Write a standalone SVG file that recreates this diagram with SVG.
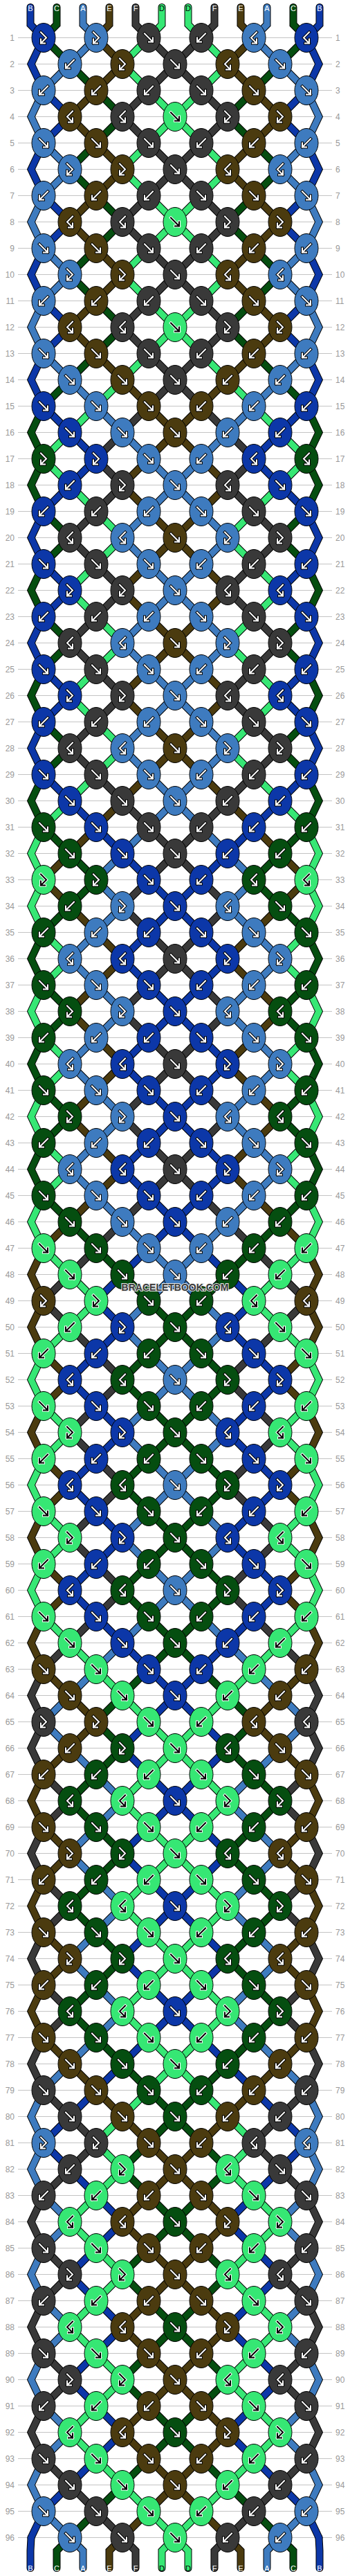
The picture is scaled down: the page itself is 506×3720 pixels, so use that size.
<svg xmlns="http://www.w3.org/2000/svg" xmlns:xlink="http://www.w3.org/1999/xlink" width="506" height="3720" viewBox="0 0 506 3720">
<style>
text{font-family:"Liberation Sans",Arial,sans-serif}
.rn{font-size:12px;fill:#999}
.lt{font-size:11px;text-anchor:middle;fill:#fff}
.lt.d{fill:#000}
.o{fill:none;stroke:#000;stroke-width:11;stroke-linecap:round}
.s{fill:none;stroke-width:9;stroke-linecap:round}
.sB{stroke:#0c37a8}.sC{stroke:#054e10}.sA{stroke:#3e7bbf}.sE{stroke:#4b3b0f}.sF{stroke:#393939}.sD{stroke:#36e774}
#knots g{stroke:#000;color:#fff}
.B{fill:#0c37a8}.C{fill:#054e10}.A{fill:#3e7bbf}.E{fill:#4b3b0f}.F{fill:#393939}
#knots g.D{fill:#36e774;stroke:#fff;color:#000}
</style>
<defs>
<g id="f"><ellipse rx="17" ry="21" stroke="#000" stroke-width="1"/><path d="M-6-6L6 6M6 0V6H0" fill="none" stroke-width="4" stroke-linecap="square"/><path d="M-6-6L6 6M6 0V6H0" fill="none" stroke="currentColor" stroke-width="2" stroke-linecap="square"/></g>
<g id="b"><ellipse rx="17" ry="21" stroke="#000" stroke-width="1"/><path d="M6-6L-6 6M-6 0V6H0" fill="none" stroke-width="4" stroke-linecap="square"/><path d="M6-6L-6 6M-6 0V6H0" fill="none" stroke="currentColor" stroke-width="2" stroke-linecap="square"/></g>
<g id="fb"><ellipse rx="17" ry="21" stroke="#000" stroke-width="1"/><path d="M-4-8L4 0L-4 8M-4 2V8H2" fill="none" stroke-width="4" stroke-linecap="square"/><path d="M-4-8L4 0L-4 8M-4 2V8H2" fill="none" stroke="currentColor" stroke-width="2" stroke-linecap="square"/></g>
<g id="bf"><ellipse rx="17" ry="21" stroke="#000" stroke-width="1"/><path d="M4-8L-4 0L4 8M4 2V8H-2" fill="none" stroke-width="4" stroke-linecap="square"/><path d="M4-8L-4 0L4 8M4 2V8H-2" fill="none" stroke="currentColor" stroke-width="2" stroke-linecap="square"/></g>
<path id="q0" fill="none" d="M63 54.5l-18 38 18 38 38 38 -38 38 -18 38 18 38 38 38 -38 38 -18 38 18 38 38 38 -38 38 -18 38 18 38 38 38"/>
<path id="qt0" fill="none" d="M63 54.5l-18 38 18 38 38 38 -38 38 -18 38 18 38 38 38 -38 38 -18 38 18 38 38 38 -38 38 -18 38 18 38 38 38 38 38"/>
<path id="q1" fill="none" d="M63 54.5l38 38 38 38 38 38 -38 38 -38 38 38 38 38 38 -38 38 -38 38 38 38 38 38 -38 38 -38 38 -38 38 -18 38"/>
<path id="qt1" fill="none" d="M63 54.5l38 38 38 38 38 38 -38 38 -38 38 38 38 38 38 -38 38 -38 38 38 38 38 38 -38 38 -38 38 -38 38 -18 38 18 38"/>
<path id="q2" fill="none" d="M139 54.5l-38 38 -38 38 -18 38 18 38 38 38 -38 38 -18 38 18 38 38 38 -38 38 -18 38 18 38 38 38 38 38 38 38"/>
<path id="qt2" fill="none" d="M139 54.5l-38 38 -38 38 -18 38 18 38 38 38 -38 38 -18 38 18 38 38 38 -38 38 -18 38 18 38 38 38 38 38 38 38 38 38"/>
<path id="q3" fill="none" d="M139 54.5l38 38 -38 38 -38 38 38 38 38 38 -38 38 -38 38 38 38 38 38 -38 38 -38 38 38 38 38 38 38 38 38 38"/>
<path id="qt3" fill="none" d="M139 54.5l38 38 -38 38 -38 38 38 38 38 38 -38 38 -38 38 38 38 38 38 -38 38 -38 38 38 38 38 38 38 38 38 38 38 38"/>
<path id="q4" fill="none" d="M215 54.5l38 38 38 38 38 38 -38 38 -38 38 -38 38 -38 38 38 38 38 38 38 38 38 38 -38 38 -38 38 -38 38 -38 38"/>
<path id="qt4" fill="none" d="M215 54.5l38 38 38 38 38 38 -38 38 -38 38 -38 38 -38 38 38 38 38 38 38 38 38 38 -38 38 -38 38 -38 38 -38 38 -38 38"/>
<path id="q5" fill="none" d="M215 54.5l-38 38 38 38 38 38 38 38 38 38 -38 38 -38 38 -38 38 -38 38 38 38 38 38 38 38 38 38 38 38 38 38"/>
<path id="qt5" fill="none" d="M215 54.5l-38 38 38 38 38 38 38 38 38 38 -38 38 -38 38 -38 38 -38 38 38 38 38 38 38 38 38 38 38 38 38 38 38 38"/>
<path id="q6" fill="none" d="M291 54.5l38 38 -38 38 -38 38 -38 38 -38 38 38 38 38 38 38 38 38 38 -38 38 -38 38 -38 38 -38 38 -38 38 -38 38"/>
<path id="qt6" fill="none" d="M291 54.5l38 38 -38 38 -38 38 -38 38 -38 38 38 38 38 38 38 38 38 38 -38 38 -38 38 -38 38 -38 38 -38 38 -38 38 -38 38"/>
<path id="q7" fill="none" d="M291 54.5l-38 38 -38 38 -38 38 38 38 38 38 38 38 38 38 -38 38 -38 38 -38 38 -38 38 38 38 38 38 38 38 38 38"/>
<path id="qt7" fill="none" d="M291 54.5l-38 38 -38 38 -38 38 38 38 38 38 38 38 38 38 -38 38 -38 38 -38 38 -38 38 38 38 38 38 38 38 38 38 38 38"/>
<path id="q8" fill="none" d="M367 54.5l-38 38 38 38 38 38 -38 38 -38 38 38 38 38 38 -38 38 -38 38 38 38 38 38 -38 38 -38 38 -38 38 -38 38"/>
<path id="qt8" fill="none" d="M367 54.5l-38 38 38 38 38 38 -38 38 -38 38 38 38 38 38 -38 38 -38 38 38 38 38 38 -38 38 -38 38 -38 38 -38 38 -38 38"/>
<path id="q9" fill="none" d="M367 54.5l38 38 38 38 18 38 -18 38 -38 38 38 38 18 38 -18 38 -38 38 38 38 18 38 -18 38 -38 38 -38 38 -38 38"/>
<path id="qt9" fill="none" d="M367 54.5l38 38 38 38 18 38 -18 38 -38 38 38 38 18 38 -18 38 -38 38 38 38 18 38 -18 38 -38 38 -38 38 -38 38 -38 38"/>
<path id="q10" fill="none" d="M443 54.5l-38 38 -38 38 -38 38 38 38 38 38 -38 38 -38 38 38 38 38 38 -38 38 -38 38 38 38 38 38 38 38 18 38"/>
<path id="qt10" fill="none" d="M443 54.5l-38 38 -38 38 -38 38 38 38 38 38 -38 38 -38 38 38 38 38 38 -38 38 -38 38 38 38 38 38 38 38 18 38 -18 38"/>
<path id="q11" fill="none" d="M443 54.5l18 38 -18 38 -38 38 38 38 18 38 -18 38 -38 38 38 38 18 38 -18 38 -38 38 38 38 18 38 -18 38 -38 38"/>
<path id="qt11" fill="none" d="M443 54.5l18 38 -18 38 -38 38 38 38 18 38 -18 38 -38 38 38 38 18 38 -18 38 -38 38 38 38 18 38 -18 38 -38 38 -38 38"/>
<g id="s0"><path fill="none" d="M44 10.5V35.5L63 54.5"/><use href="#qt0"/><use href="#qt2" y="608"/><use href="#qt4" y="1216"/><use href="#qt3" y="1824"/><use href="#qt6" y="2432"/><use href="#q1" y="3040"/><path fill="none" d="M45 3664.5L44 3683.5V3708.5"/></g>
<g id="s1"><path fill="none" d="M82 10.5V35.5L63 54.5"/><use href="#qt1"/><use href="#qt0" y="608"/><use href="#qt2" y="1216"/><use href="#qt4" y="1824"/><use href="#qt3" y="2432"/><use href="#q6" y="3040"/><path fill="none" d="M101 3664.5L82 3683.5V3708.5"/></g>
<g id="s2"><path fill="none" d="M120 10.5V35.5L139 54.5"/><use href="#qt2"/><use href="#qt4" y="608"/><use href="#qt3" y="1216"/><use href="#qt6" y="1824"/><use href="#qt1" y="2432"/><use href="#q0" y="3040"/><path fill="none" d="M101 3664.5L120 3683.5V3708.5"/></g>
<g id="s3"><path fill="none" d="M158 10.5V35.5L139 54.5"/><use href="#qt3"/><use href="#qt6" y="608"/><use href="#qt1" y="1216"/><use href="#qt0" y="1824"/><use href="#qt2" y="2432"/><use href="#q4" y="3040"/><path fill="none" d="M177 3664.5L158 3683.5V3708.5"/></g>
<g id="s4"><path fill="none" d="M196 10.5V35.5L215 54.5"/><use href="#qt4"/><use href="#qt3" y="608"/><use href="#qt6" y="1216"/><use href="#qt1" y="1824"/><use href="#qt0" y="2432"/><use href="#q2" y="3040"/><path fill="none" d="M177 3664.5L196 3683.5V3708.5"/></g>
<g id="s5"><path fill="none" d="M234 10.5V35.5L215 54.5"/><use href="#qt5"/><use href="#qt10" y="608"/><use href="#qt11" y="1216"/><use href="#qt9" y="1824"/><use href="#qt7" y="2432"/><use href="#q8" y="3040"/><path fill="none" d="M253 3664.5L234 3683.5V3708.5"/></g>
<g id="s6"><path fill="none" d="M272 10.5V35.5L291 54.5"/><use href="#qt6"/><use href="#qt1" y="608"/><use href="#qt0" y="1216"/><use href="#qt2" y="1824"/><use href="#qt4" y="2432"/><use href="#q3" y="3040"/><path fill="none" d="M253 3664.5L272 3683.5V3708.5"/></g>
<g id="s7"><path fill="none" d="M310 10.5V35.5L291 54.5"/><use href="#qt7"/><use href="#qt8" y="608"/><use href="#qt5" y="1216"/><use href="#qt10" y="1824"/><use href="#qt11" y="2432"/><use href="#q9" y="3040"/><path fill="none" d="M329 3664.5L310 3683.5V3708.5"/></g>
<g id="s8"><path fill="none" d="M348 10.5V35.5L367 54.5"/><use href="#qt8"/><use href="#qt5" y="608"/><use href="#qt10" y="1216"/><use href="#qt11" y="1824"/><use href="#qt9" y="2432"/><use href="#q7" y="3040"/><path fill="none" d="M329 3664.5L348 3683.5V3708.5"/></g>
<g id="s9"><path fill="none" d="M386 10.5V35.5L367 54.5"/><use href="#qt9"/><use href="#qt7" y="608"/><use href="#qt8" y="1216"/><use href="#qt5" y="1824"/><use href="#qt10" y="2432"/><use href="#q11" y="3040"/><path fill="none" d="M405 3664.5L386 3683.5V3708.5"/></g>
<g id="s10"><path fill="none" d="M424 10.5V35.5L443 54.5"/><use href="#qt10"/><use href="#qt11" y="608"/><use href="#qt9" y="1216"/><use href="#qt7" y="1824"/><use href="#qt8" y="2432"/><use href="#q5" y="3040"/><path fill="none" d="M405 3664.5L424 3683.5V3708.5"/></g>
<g id="s11"><path fill="none" d="M462 10.5V35.5L443 54.5"/><use href="#qt11"/><use href="#qt9" y="608"/><use href="#qt7" y="1216"/><use href="#qt8" y="1824"/><use href="#qt5" y="2432"/><use href="#q10" y="3040"/><path fill="none" d="M461 3664.5L462 3683.5V3708.5"/></g>
</defs>
<rect width="506" height="3720" fill="#fff"/>
<path id="grid" fill="none" stroke="#c4c4c4" stroke-width="1" d="M26 54.5H480M26 92.5H480M26 130.5H480M26 168.5H480M26 206.5H480M26 244.5H480M26 282.5H480M26 320.5H480M26 358.5H480M26 396.5H480M26 434.5H480M26 472.5H480M26 510.5H480M26 548.5H480M26 586.5H480M26 624.5H480M26 662.5H480M26 700.5H480M26 738.5H480M26 776.5H480M26 814.5H480M26 852.5H480M26 890.5H480M26 928.5H480M26 966.5H480M26 1004.5H480M26 1042.5H480M26 1080.5H480M26 1118.5H480M26 1156.5H480M26 1194.5H480M26 1232.5H480M26 1270.5H480M26 1308.5H480M26 1346.5H480M26 1384.5H480M26 1422.5H480M26 1460.5H480M26 1498.5H480M26 1536.5H480M26 1574.5H480M26 1612.5H480M26 1650.5H480M26 1688.5H480M26 1726.5H480M26 1764.5H480M26 1802.5H480M26 1840.5H480M26 1878.5H480M26 1916.5H480M26 1954.5H480M26 1992.5H480M26 2030.5H480M26 2068.5H480M26 2106.5H480M26 2144.5H480M26 2182.5H480M26 2220.5H480M26 2258.5H480M26 2296.5H480M26 2334.5H480M26 2372.5H480M26 2410.5H480M26 2448.5H480M26 2486.5H480M26 2524.5H480M26 2562.5H480M26 2600.5H480M26 2638.5H480M26 2676.5H480M26 2714.5H480M26 2752.5H480M26 2790.5H480M26 2828.5H480M26 2866.5H480M26 2904.5H480M26 2942.5H480M26 2980.5H480M26 3018.5H480M26 3056.5H480M26 3094.5H480M26 3132.5H480M26 3170.5H480M26 3208.5H480M26 3246.5H480M26 3284.5H480M26 3322.5H480M26 3360.5H480M26 3398.5H480M26 3436.5H480M26 3474.5H480M26 3512.5H480M26 3550.5H480M26 3588.5H480M26 3626.5H480M26 3664.5H480"/>
<g id="rownums" class="rn">
<g transform="translate(21 0)" text-anchor="end">
<text y="59">1</text><text y="97">2</text><text y="135">3</text><text y="173">4</text><text y="211">5</text><text y="249">6</text><text y="287">7</text><text y="325">8</text><text y="363">9</text><text y="401">10</text><text y="439">11</text><text y="477">12</text><text y="515">13</text><text y="553">14</text><text y="591">15</text><text y="629">16</text><text y="667">17</text><text y="705">18</text><text y="743">19</text><text y="781">20</text><text y="819">21</text><text y="857">22</text><text y="895">23</text><text y="933">24</text><text y="971">25</text><text y="1009">26</text><text y="1047">27</text><text y="1085">28</text><text y="1123">29</text><text y="1161">30</text><text y="1199">31</text><text y="1237">32</text><text y="1275">33</text><text y="1313">34</text><text y="1351">35</text><text y="1389">36</text><text y="1427">37</text><text y="1465">38</text><text y="1503">39</text><text y="1541">40</text><text y="1579">41</text><text y="1617">42</text><text y="1655">43</text><text y="1693">44</text><text y="1731">45</text><text y="1769">46</text><text y="1807">47</text><text y="1845">48</text><text y="1883">49</text><text y="1921">50</text><text y="1959">51</text><text y="1997">52</text><text y="2035">53</text><text y="2073">54</text><text y="2111">55</text><text y="2149">56</text><text y="2187">57</text><text y="2225">58</text><text y="2263">59</text><text y="2301">60</text><text y="2339">61</text><text y="2377">62</text><text y="2415">63</text><text y="2453">64</text><text y="2491">65</text><text y="2529">66</text><text y="2567">67</text><text y="2605">68</text><text y="2643">69</text><text y="2681">70</text><text y="2719">71</text><text y="2757">72</text><text y="2795">73</text><text y="2833">74</text><text y="2871">75</text><text y="2909">76</text><text y="2947">77</text><text y="2985">78</text><text y="3023">79</text><text y="3061">80</text><text y="3099">81</text><text y="3137">82</text><text y="3175">83</text><text y="3213">84</text><text y="3251">85</text><text y="3289">86</text><text y="3327">87</text><text y="3365">88</text><text y="3403">89</text><text y="3441">90</text><text y="3479">91</text><text y="3517">92</text><text y="3555">93</text><text y="3593">94</text><text y="3631">95</text><text y="3669">96</text>
</g>
<g transform="translate(485 0)">
<text y="59">1</text><text y="97">2</text><text y="135">3</text><text y="173">4</text><text y="211">5</text><text y="249">6</text><text y="287">7</text><text y="325">8</text><text y="363">9</text><text y="401">10</text><text y="439">11</text><text y="477">12</text><text y="515">13</text><text y="553">14</text><text y="591">15</text><text y="629">16</text><text y="667">17</text><text y="705">18</text><text y="743">19</text><text y="781">20</text><text y="819">21</text><text y="857">22</text><text y="895">23</text><text y="933">24</text><text y="971">25</text><text y="1009">26</text><text y="1047">27</text><text y="1085">28</text><text y="1123">29</text><text y="1161">30</text><text y="1199">31</text><text y="1237">32</text><text y="1275">33</text><text y="1313">34</text><text y="1351">35</text><text y="1389">36</text><text y="1427">37</text><text y="1465">38</text><text y="1503">39</text><text y="1541">40</text><text y="1579">41</text><text y="1617">42</text><text y="1655">43</text><text y="1693">44</text><text y="1731">45</text><text y="1769">46</text><text y="1807">47</text><text y="1845">48</text><text y="1883">49</text><text y="1921">50</text><text y="1959">51</text><text y="1997">52</text><text y="2035">53</text><text y="2073">54</text><text y="2111">55</text><text y="2149">56</text><text y="2187">57</text><text y="2225">58</text><text y="2263">59</text><text y="2301">60</text><text y="2339">61</text><text y="2377">62</text><text y="2415">63</text><text y="2453">64</text><text y="2491">65</text><text y="2529">66</text><text y="2567">67</text><text y="2605">68</text><text y="2643">69</text><text y="2681">70</text><text y="2719">71</text><text y="2757">72</text><text y="2795">73</text><text y="2833">74</text><text y="2871">75</text><text y="2909">76</text><text y="2947">77</text><text y="2985">78</text><text y="3023">79</text><text y="3061">80</text><text y="3099">81</text><text y="3137">82</text><text y="3175">83</text><text y="3213">84</text><text y="3251">85</text><text y="3289">86</text><text y="3327">87</text><text y="3365">88</text><text y="3403">89</text><text y="3441">90</text><text y="3479">91</text><text y="3517">92</text><text y="3555">93</text><text y="3593">94</text><text y="3631">95</text><text y="3669">96</text>
</g>
</g>
<g id="strings">
<use href="#s0" class="o"/><use href="#s1" class="o"/><use href="#s2" class="o"/><use href="#s3" class="o"/><use href="#s4" class="o"/><use href="#s5" class="o"/><use href="#s6" class="o"/><use href="#s7" class="o"/><use href="#s8" class="o"/><use href="#s9" class="o"/><use href="#s10" class="o"/><use href="#s11" class="o"/>
<use href="#s0" class="s sB"/><use href="#s1" class="s sC"/><use href="#s2" class="s sA"/><use href="#s3" class="s sE"/><use href="#s4" class="s sF"/><use href="#s5" class="s sD"/><use href="#s6" class="s sD"/><use href="#s7" class="s sF"/><use href="#s8" class="s sE"/><use href="#s9" class="s sA"/><use href="#s10" class="s sC"/><use href="#s11" class="s sB"/>
</g>
<g id="labels">
<text class="lt" x="44" y="16">B</text><text class="lt" x="82" y="16">C</text><text class="lt" x="120" y="16">A</text><text class="lt" x="158" y="16">E</text><text class="lt" x="196" y="16">F</text><text class="lt d" x="234" y="16">D</text><text class="lt d" x="272" y="16">D</text><text class="lt" x="310" y="16">F</text><text class="lt" x="348" y="16">E</text><text class="lt" x="386" y="16">A</text><text class="lt" x="424" y="16">C</text><text class="lt" x="462" y="16">B</text>
<text class="lt" x="44" y="3712.5">B</text><text class="lt" x="82" y="3712.5">C</text><text class="lt" x="120" y="3712.5">A</text><text class="lt" x="158" y="3712.5">E</text><text class="lt" x="196" y="3712.5">F</text><text class="lt d" x="234" y="3712.5">D</text><text class="lt d" x="272" y="3712.5">D</text><text class="lt" x="310" y="3712.5">F</text><text class="lt" x="348" y="3712.5">E</text><text class="lt" x="386" y="3712.5">A</text><text class="lt" x="424" y="3712.5">C</text><text class="lt" x="462" y="3712.5">B</text>
</g>
<g id="knots">
<g id="r1" transform="translate(0 54.5)"><g id="k1-1" class="B"><use href="#fb" x="63"/></g><g id="k1-2" class="A"><use href="#fb" x="139"/></g><g id="k1-3" class="F"><use href="#f" x="215"/></g><g id="k1-4" class="F"><use href="#b" x="291"/></g><g id="k1-5" class="A"><use href="#bf" x="367"/></g><g id="k1-6" class="B"><use href="#bf" x="443"/></g></g>
<g id="r2" transform="translate(0 92.5)"><g id="k2-1" class="A"><use href="#b" x="101"/></g><g id="k2-2" class="E"><use href="#fb" x="177"/></g><g id="k2-3" class="F"><use href="#f" x="253"/></g><g id="k2-4" class="E"><use href="#bf" x="329"/></g><g id="k2-5" class="A"><use href="#f" x="405"/></g></g>
<g id="r3" transform="translate(0 130.5)"><g id="k3-1" class="A"><use href="#b" x="63"/></g><g id="k3-2" class="E"><use href="#b" x="139"/></g><g id="k3-3" class="F"><use href="#b" x="215"/></g><g id="k3-4" class="F"><use href="#f" x="291"/></g><g id="k3-5" class="E"><use href="#f" x="367"/></g><g id="k3-6" class="A"><use href="#f" x="443"/></g></g>
<g id="r4" transform="translate(0 168.5)"><g id="k4-1" class="E"><use href="#bf" x="101"/></g><g id="k4-2" class="F"><use href="#bf" x="177"/></g><g id="k4-3" class="D"><use href="#f" x="253"/></g><g id="k4-4" class="F"><use href="#fb" x="329"/></g><g id="k4-5" class="E"><use href="#fb" x="405"/></g></g>
<g id="r5" transform="translate(0 206.5)"><g id="k5-1" class="A"><use href="#f" x="63"/></g><g id="k5-2" class="E"><use href="#f" x="139"/></g><g id="k5-3" class="F"><use href="#f" x="215"/></g><g id="k5-4" class="F"><use href="#b" x="291"/></g><g id="k5-5" class="E"><use href="#b" x="367"/></g><g id="k5-6" class="A"><use href="#b" x="443"/></g></g>
<g id="r6" transform="translate(0 244.5)"><g id="k6-1" class="A"><use href="#fb" x="101"/></g><g id="k6-2" class="E"><use href="#fb" x="177"/></g><g id="k6-3" class="F"><use href="#f" x="253"/></g><g id="k6-4" class="E"><use href="#bf" x="329"/></g><g id="k6-5" class="A"><use href="#bf" x="405"/></g></g>
<g id="r7" transform="translate(0 282.5)"><g id="k7-1" class="A"><use href="#b" x="63"/></g><g id="k7-2" class="E"><use href="#b" x="139"/></g><g id="k7-3" class="F"><use href="#b" x="215"/></g><g id="k7-4" class="F"><use href="#f" x="291"/></g><g id="k7-5" class="E"><use href="#f" x="367"/></g><g id="k7-6" class="A"><use href="#f" x="443"/></g></g>
<g id="r8" transform="translate(0 320.5)"><g id="k8-1" class="E"><use href="#bf" x="101"/></g><g id="k8-2" class="F"><use href="#bf" x="177"/></g><g id="k8-3" class="D"><use href="#f" x="253"/></g><g id="k8-4" class="F"><use href="#fb" x="329"/></g><g id="k8-5" class="E"><use href="#fb" x="405"/></g></g>
<g id="r9" transform="translate(0 358.5)"><g id="k9-1" class="A"><use href="#f" x="63"/></g><g id="k9-2" class="E"><use href="#f" x="139"/></g><g id="k9-3" class="F"><use href="#f" x="215"/></g><g id="k9-4" class="F"><use href="#b" x="291"/></g><g id="k9-5" class="E"><use href="#b" x="367"/></g><g id="k9-6" class="A"><use href="#b" x="443"/></g></g>
<g id="r10" transform="translate(0 396.5)"><g id="k10-1" class="A"><use href="#fb" x="101"/></g><g id="k10-2" class="E"><use href="#fb" x="177"/></g><g id="k10-3" class="F"><use href="#f" x="253"/></g><g id="k10-4" class="E"><use href="#bf" x="329"/></g><g id="k10-5" class="A"><use href="#bf" x="405"/></g></g>
<g id="r11" transform="translate(0 434.5)"><g id="k11-1" class="A"><use href="#b" x="63"/></g><g id="k11-2" class="E"><use href="#b" x="139"/></g><g id="k11-3" class="F"><use href="#b" x="215"/></g><g id="k11-4" class="F"><use href="#f" x="291"/></g><g id="k11-5" class="E"><use href="#f" x="367"/></g><g id="k11-6" class="A"><use href="#f" x="443"/></g></g>
<g id="r12" transform="translate(0 472.5)"><g id="k12-1" class="E"><use href="#bf" x="101"/></g><g id="k12-2" class="F"><use href="#bf" x="177"/></g><g id="k12-3" class="D"><use href="#f" x="253"/></g><g id="k12-4" class="F"><use href="#fb" x="329"/></g><g id="k12-5" class="E"><use href="#fb" x="405"/></g></g>
<g id="r13" transform="translate(0 510.5)"><g id="k13-1" class="A"><use href="#f" x="63"/></g><g id="k13-2" class="E"><use href="#f" x="139"/></g><g id="k13-3" class="F"><use href="#f" x="215"/></g><g id="k13-4" class="F"><use href="#b" x="291"/></g><g id="k13-5" class="E"><use href="#b" x="367"/></g><g id="k13-6" class="A"><use href="#b" x="443"/></g></g>
<g id="r14" transform="translate(0 548.5)"><g id="k14-1" class="A"><use href="#f" x="101"/></g><g id="k14-2" class="E"><use href="#f" x="177"/></g><g id="k14-3" class="F"><use href="#f" x="253"/></g><g id="k14-4" class="E"><use href="#b" x="329"/></g><g id="k14-5" class="A"><use href="#b" x="405"/></g></g>
<g id="r15" transform="translate(0 586.5)"><g id="k15-1" class="B"><use href="#f" x="63"/></g><g id="k15-2" class="A"><use href="#f" x="139"/></g><g id="k15-3" class="E"><use href="#f" x="215"/></g><g id="k15-4" class="E"><use href="#b" x="291"/></g><g id="k15-5" class="A"><use href="#b" x="367"/></g><g id="k15-6" class="B"><use href="#b" x="443"/></g></g>
<g id="r16" transform="translate(0 624.5)"><g id="k16-1" class="B"><use href="#f" x="101"/></g><g id="k16-2" class="A"><use href="#f" x="177"/></g><g id="k16-3" class="E"><use href="#f" x="253"/></g><g id="k16-4" class="A"><use href="#b" x="329"/></g><g id="k16-5" class="B"><use href="#b" x="405"/></g></g>
<g id="r17" transform="translate(0 662.5)"><g id="k17-1" class="C"><use href="#fb" x="63"/></g><g id="k17-2" class="B"><use href="#fb" x="139"/></g><g id="k17-3" class="A"><use href="#f" x="215"/></g><g id="k17-4" class="A"><use href="#b" x="291"/></g><g id="k17-5" class="B"><use href="#bf" x="367"/></g><g id="k17-6" class="C"><use href="#bf" x="443"/></g></g>
<g id="r18" transform="translate(0 700.5)"><g id="k18-1" class="B"><use href="#b" x="101"/></g><g id="k18-2" class="F"><use href="#fb" x="177"/></g><g id="k18-3" class="A"><use href="#f" x="253"/></g><g id="k18-4" class="F"><use href="#bf" x="329"/></g><g id="k18-5" class="B"><use href="#f" x="405"/></g></g>
<g id="r19" transform="translate(0 738.5)"><g id="k19-1" class="B"><use href="#b" x="63"/></g><g id="k19-2" class="F"><use href="#b" x="139"/></g><g id="k19-3" class="A"><use href="#b" x="215"/></g><g id="k19-4" class="A"><use href="#f" x="291"/></g><g id="k19-5" class="F"><use href="#f" x="367"/></g><g id="k19-6" class="B"><use href="#f" x="443"/></g></g>
<g id="r20" transform="translate(0 776.5)"><g id="k20-1" class="F"><use href="#bf" x="101"/></g><g id="k20-2" class="A"><use href="#bf" x="177"/></g><g id="k20-3" class="E"><use href="#f" x="253"/></g><g id="k20-4" class="A"><use href="#fb" x="329"/></g><g id="k20-5" class="F"><use href="#fb" x="405"/></g></g>
<g id="r21" transform="translate(0 814.5)"><g id="k21-1" class="B"><use href="#f" x="63"/></g><g id="k21-2" class="F"><use href="#f" x="139"/></g><g id="k21-3" class="A"><use href="#f" x="215"/></g><g id="k21-4" class="A"><use href="#b" x="291"/></g><g id="k21-5" class="F"><use href="#b" x="367"/></g><g id="k21-6" class="B"><use href="#b" x="443"/></g></g>
<g id="r22" transform="translate(0 852.5)"><g id="k22-1" class="B"><use href="#fb" x="101"/></g><g id="k22-2" class="F"><use href="#fb" x="177"/></g><g id="k22-3" class="A"><use href="#f" x="253"/></g><g id="k22-4" class="F"><use href="#bf" x="329"/></g><g id="k22-5" class="B"><use href="#bf" x="405"/></g></g>
<g id="r23" transform="translate(0 890.5)"><g id="k23-1" class="B"><use href="#b" x="63"/></g><g id="k23-2" class="F"><use href="#b" x="139"/></g><g id="k23-3" class="A"><use href="#b" x="215"/></g><g id="k23-4" class="A"><use href="#f" x="291"/></g><g id="k23-5" class="F"><use href="#f" x="367"/></g><g id="k23-6" class="B"><use href="#f" x="443"/></g></g>
<g id="r24" transform="translate(0 928.5)"><g id="k24-1" class="F"><use href="#bf" x="101"/></g><g id="k24-2" class="A"><use href="#bf" x="177"/></g><g id="k24-3" class="E"><use href="#f" x="253"/></g><g id="k24-4" class="A"><use href="#fb" x="329"/></g><g id="k24-5" class="F"><use href="#fb" x="405"/></g></g>
<g id="r25" transform="translate(0 966.5)"><g id="k25-1" class="B"><use href="#f" x="63"/></g><g id="k25-2" class="F"><use href="#f" x="139"/></g><g id="k25-3" class="A"><use href="#f" x="215"/></g><g id="k25-4" class="A"><use href="#b" x="291"/></g><g id="k25-5" class="F"><use href="#b" x="367"/></g><g id="k25-6" class="B"><use href="#b" x="443"/></g></g>
<g id="r26" transform="translate(0 1004.5)"><g id="k26-1" class="B"><use href="#fb" x="101"/></g><g id="k26-2" class="F"><use href="#fb" x="177"/></g><g id="k26-3" class="A"><use href="#f" x="253"/></g><g id="k26-4" class="F"><use href="#bf" x="329"/></g><g id="k26-5" class="B"><use href="#bf" x="405"/></g></g>
<g id="r27" transform="translate(0 1042.5)"><g id="k27-1" class="B"><use href="#b" x="63"/></g><g id="k27-2" class="F"><use href="#b" x="139"/></g><g id="k27-3" class="A"><use href="#b" x="215"/></g><g id="k27-4" class="A"><use href="#f" x="291"/></g><g id="k27-5" class="F"><use href="#f" x="367"/></g><g id="k27-6" class="B"><use href="#f" x="443"/></g></g>
<g id="r28" transform="translate(0 1080.5)"><g id="k28-1" class="F"><use href="#bf" x="101"/></g><g id="k28-2" class="A"><use href="#bf" x="177"/></g><g id="k28-3" class="E"><use href="#f" x="253"/></g><g id="k28-4" class="A"><use href="#fb" x="329"/></g><g id="k28-5" class="F"><use href="#fb" x="405"/></g></g>
<g id="r29" transform="translate(0 1118.5)"><g id="k29-1" class="B"><use href="#f" x="63"/></g><g id="k29-2" class="F"><use href="#f" x="139"/></g><g id="k29-3" class="A"><use href="#f" x="215"/></g><g id="k29-4" class="A"><use href="#b" x="291"/></g><g id="k29-5" class="F"><use href="#b" x="367"/></g><g id="k29-6" class="B"><use href="#b" x="443"/></g></g>
<g id="r30" transform="translate(0 1156.5)"><g id="k30-1" class="B"><use href="#f" x="101"/></g><g id="k30-2" class="F"><use href="#f" x="177"/></g><g id="k30-3" class="A"><use href="#f" x="253"/></g><g id="k30-4" class="F"><use href="#b" x="329"/></g><g id="k30-5" class="B"><use href="#b" x="405"/></g></g>
<g id="r31" transform="translate(0 1194.5)"><g id="k31-1" class="C"><use href="#f" x="63"/></g><g id="k31-2" class="B"><use href="#f" x="139"/></g><g id="k31-3" class="F"><use href="#f" x="215"/></g><g id="k31-4" class="F"><use href="#b" x="291"/></g><g id="k31-5" class="B"><use href="#b" x="367"/></g><g id="k31-6" class="C"><use href="#b" x="443"/></g></g>
<g id="r32" transform="translate(0 1232.5)"><g id="k32-1" class="C"><use href="#f" x="101"/></g><g id="k32-2" class="B"><use href="#f" x="177"/></g><g id="k32-3" class="F"><use href="#f" x="253"/></g><g id="k32-4" class="B"><use href="#b" x="329"/></g><g id="k32-5" class="C"><use href="#b" x="405"/></g></g>
<g id="r33" transform="translate(0 1270.5)"><g id="k33-1" class="D"><use href="#fb" x="63"/></g><g id="k33-2" class="C"><use href="#fb" x="139"/></g><g id="k33-3" class="B"><use href="#f" x="215"/></g><g id="k33-4" class="B"><use href="#b" x="291"/></g><g id="k33-5" class="C"><use href="#bf" x="367"/></g><g id="k33-6" class="D"><use href="#bf" x="443"/></g></g>
<g id="r34" transform="translate(0 1308.5)"><g id="k34-1" class="C"><use href="#b" x="101"/></g><g id="k34-2" class="A"><use href="#fb" x="177"/></g><g id="k34-3" class="B"><use href="#f" x="253"/></g><g id="k34-4" class="A"><use href="#bf" x="329"/></g><g id="k34-5" class="C"><use href="#f" x="405"/></g></g>
<g id="r35" transform="translate(0 1346.5)"><g id="k35-1" class="C"><use href="#b" x="63"/></g><g id="k35-2" class="A"><use href="#b" x="139"/></g><g id="k35-3" class="B"><use href="#b" x="215"/></g><g id="k35-4" class="B"><use href="#f" x="291"/></g><g id="k35-5" class="A"><use href="#f" x="367"/></g><g id="k35-6" class="C"><use href="#f" x="443"/></g></g>
<g id="r36" transform="translate(0 1384.5)"><g id="k36-1" class="A"><use href="#bf" x="101"/></g><g id="k36-2" class="B"><use href="#bf" x="177"/></g><g id="k36-3" class="F"><use href="#f" x="253"/></g><g id="k36-4" class="B"><use href="#fb" x="329"/></g><g id="k36-5" class="A"><use href="#fb" x="405"/></g></g>
<g id="r37" transform="translate(0 1422.5)"><g id="k37-1" class="C"><use href="#f" x="63"/></g><g id="k37-2" class="A"><use href="#f" x="139"/></g><g id="k37-3" class="B"><use href="#f" x="215"/></g><g id="k37-4" class="B"><use href="#b" x="291"/></g><g id="k37-5" class="A"><use href="#b" x="367"/></g><g id="k37-6" class="C"><use href="#b" x="443"/></g></g>
<g id="r38" transform="translate(0 1460.5)"><g id="k38-1" class="C"><use href="#fb" x="101"/></g><g id="k38-2" class="A"><use href="#fb" x="177"/></g><g id="k38-3" class="B"><use href="#f" x="253"/></g><g id="k38-4" class="A"><use href="#bf" x="329"/></g><g id="k38-5" class="C"><use href="#bf" x="405"/></g></g>
<g id="r39" transform="translate(0 1498.5)"><g id="k39-1" class="C"><use href="#b" x="63"/></g><g id="k39-2" class="A"><use href="#b" x="139"/></g><g id="k39-3" class="B"><use href="#b" x="215"/></g><g id="k39-4" class="B"><use href="#f" x="291"/></g><g id="k39-5" class="A"><use href="#f" x="367"/></g><g id="k39-6" class="C"><use href="#f" x="443"/></g></g>
<g id="r40" transform="translate(0 1536.5)"><g id="k40-1" class="A"><use href="#bf" x="101"/></g><g id="k40-2" class="B"><use href="#bf" x="177"/></g><g id="k40-3" class="F"><use href="#f" x="253"/></g><g id="k40-4" class="B"><use href="#fb" x="329"/></g><g id="k40-5" class="A"><use href="#fb" x="405"/></g></g>
<g id="r41" transform="translate(0 1574.5)"><g id="k41-1" class="C"><use href="#f" x="63"/></g><g id="k41-2" class="A"><use href="#f" x="139"/></g><g id="k41-3" class="B"><use href="#f" x="215"/></g><g id="k41-4" class="B"><use href="#b" x="291"/></g><g id="k41-5" class="A"><use href="#b" x="367"/></g><g id="k41-6" class="C"><use href="#b" x="443"/></g></g>
<g id="r42" transform="translate(0 1612.5)"><g id="k42-1" class="C"><use href="#fb" x="101"/></g><g id="k42-2" class="A"><use href="#fb" x="177"/></g><g id="k42-3" class="B"><use href="#f" x="253"/></g><g id="k42-4" class="A"><use href="#bf" x="329"/></g><g id="k42-5" class="C"><use href="#bf" x="405"/></g></g>
<g id="r43" transform="translate(0 1650.5)"><g id="k43-1" class="C"><use href="#b" x="63"/></g><g id="k43-2" class="A"><use href="#b" x="139"/></g><g id="k43-3" class="B"><use href="#b" x="215"/></g><g id="k43-4" class="B"><use href="#f" x="291"/></g><g id="k43-5" class="A"><use href="#f" x="367"/></g><g id="k43-6" class="C"><use href="#f" x="443"/></g></g>
<g id="r44" transform="translate(0 1688.5)"><g id="k44-1" class="A"><use href="#bf" x="101"/></g><g id="k44-2" class="B"><use href="#bf" x="177"/></g><g id="k44-3" class="F"><use href="#f" x="253"/></g><g id="k44-4" class="B"><use href="#fb" x="329"/></g><g id="k44-5" class="A"><use href="#fb" x="405"/></g></g>
<g id="r45" transform="translate(0 1726.5)"><g id="k45-1" class="C"><use href="#f" x="63"/></g><g id="k45-2" class="A"><use href="#f" x="139"/></g><g id="k45-3" class="B"><use href="#f" x="215"/></g><g id="k45-4" class="B"><use href="#b" x="291"/></g><g id="k45-5" class="A"><use href="#b" x="367"/></g><g id="k45-6" class="C"><use href="#b" x="443"/></g></g>
<g id="r46" transform="translate(0 1764.5)"><g id="k46-1" class="C"><use href="#f" x="101"/></g><g id="k46-2" class="A"><use href="#f" x="177"/></g><g id="k46-3" class="B"><use href="#f" x="253"/></g><g id="k46-4" class="A"><use href="#b" x="329"/></g><g id="k46-5" class="C"><use href="#b" x="405"/></g></g>
<g id="r47" transform="translate(0 1802.5)"><g id="k47-1" class="D"><use href="#f" x="63"/></g><g id="k47-2" class="C"><use href="#f" x="139"/></g><g id="k47-3" class="A"><use href="#f" x="215"/></g><g id="k47-4" class="A"><use href="#b" x="291"/></g><g id="k47-5" class="C"><use href="#b" x="367"/></g><g id="k47-6" class="D"><use href="#b" x="443"/></g></g>
<g id="r48" transform="translate(0 1840.5)"><g id="k48-1" class="D"><use href="#f" x="101"/></g><g id="k48-2" class="C"><use href="#f" x="177"/></g><g id="k48-3" class="A"><use href="#f" x="253"/></g><g id="k48-4" class="C"><use href="#b" x="329"/></g><g id="k48-5" class="D"><use href="#b" x="405"/></g></g>
<g id="r49" transform="translate(0 1878.5)"><g id="k49-1" class="E"><use href="#fb" x="63"/></g><g id="k49-2" class="D"><use href="#fb" x="139"/></g><g id="k49-3" class="C"><use href="#f" x="215"/></g><g id="k49-4" class="C"><use href="#b" x="291"/></g><g id="k49-5" class="D"><use href="#bf" x="367"/></g><g id="k49-6" class="E"><use href="#bf" x="443"/></g></g>
<g id="r50" transform="translate(0 1916.5)"><g id="k50-1" class="D"><use href="#b" x="101"/></g><g id="k50-2" class="B"><use href="#fb" x="177"/></g><g id="k50-3" class="C"><use href="#f" x="253"/></g><g id="k50-4" class="B"><use href="#bf" x="329"/></g><g id="k50-5" class="D"><use href="#f" x="405"/></g></g>
<g id="r51" transform="translate(0 1954.5)"><g id="k51-1" class="D"><use href="#b" x="63"/></g><g id="k51-2" class="B"><use href="#b" x="139"/></g><g id="k51-3" class="C"><use href="#b" x="215"/></g><g id="k51-4" class="C"><use href="#f" x="291"/></g><g id="k51-5" class="B"><use href="#f" x="367"/></g><g id="k51-6" class="D"><use href="#f" x="443"/></g></g>
<g id="r52" transform="translate(0 1992.5)"><g id="k52-1" class="B"><use href="#bf" x="101"/></g><g id="k52-2" class="C"><use href="#bf" x="177"/></g><g id="k52-3" class="A"><use href="#f" x="253"/></g><g id="k52-4" class="C"><use href="#fb" x="329"/></g><g id="k52-5" class="B"><use href="#fb" x="405"/></g></g>
<g id="r53" transform="translate(0 2030.5)"><g id="k53-1" class="D"><use href="#f" x="63"/></g><g id="k53-2" class="B"><use href="#f" x="139"/></g><g id="k53-3" class="C"><use href="#f" x="215"/></g><g id="k53-4" class="C"><use href="#b" x="291"/></g><g id="k53-5" class="B"><use href="#b" x="367"/></g><g id="k53-6" class="D"><use href="#b" x="443"/></g></g>
<g id="r54" transform="translate(0 2068.5)"><g id="k54-1" class="D"><use href="#fb" x="101"/></g><g id="k54-2" class="B"><use href="#fb" x="177"/></g><g id="k54-3" class="C"><use href="#f" x="253"/></g><g id="k54-4" class="B"><use href="#bf" x="329"/></g><g id="k54-5" class="D"><use href="#bf" x="405"/></g></g>
<g id="r55" transform="translate(0 2106.5)"><g id="k55-1" class="D"><use href="#b" x="63"/></g><g id="k55-2" class="B"><use href="#b" x="139"/></g><g id="k55-3" class="C"><use href="#b" x="215"/></g><g id="k55-4" class="C"><use href="#f" x="291"/></g><g id="k55-5" class="B"><use href="#f" x="367"/></g><g id="k55-6" class="D"><use href="#f" x="443"/></g></g>
<g id="r56" transform="translate(0 2144.5)"><g id="k56-1" class="B"><use href="#bf" x="101"/></g><g id="k56-2" class="C"><use href="#bf" x="177"/></g><g id="k56-3" class="A"><use href="#f" x="253"/></g><g id="k56-4" class="C"><use href="#fb" x="329"/></g><g id="k56-5" class="B"><use href="#fb" x="405"/></g></g>
<g id="r57" transform="translate(0 2182.5)"><g id="k57-1" class="D"><use href="#f" x="63"/></g><g id="k57-2" class="B"><use href="#f" x="139"/></g><g id="k57-3" class="C"><use href="#f" x="215"/></g><g id="k57-4" class="C"><use href="#b" x="291"/></g><g id="k57-5" class="B"><use href="#b" x="367"/></g><g id="k57-6" class="D"><use href="#b" x="443"/></g></g>
<g id="r58" transform="translate(0 2220.5)"><g id="k58-1" class="D"><use href="#fb" x="101"/></g><g id="k58-2" class="B"><use href="#fb" x="177"/></g><g id="k58-3" class="C"><use href="#f" x="253"/></g><g id="k58-4" class="B"><use href="#bf" x="329"/></g><g id="k58-5" class="D"><use href="#bf" x="405"/></g></g>
<g id="r59" transform="translate(0 2258.5)"><g id="k59-1" class="D"><use href="#b" x="63"/></g><g id="k59-2" class="B"><use href="#b" x="139"/></g><g id="k59-3" class="C"><use href="#b" x="215"/></g><g id="k59-4" class="C"><use href="#f" x="291"/></g><g id="k59-5" class="B"><use href="#f" x="367"/></g><g id="k59-6" class="D"><use href="#f" x="443"/></g></g>
<g id="r60" transform="translate(0 2296.5)"><g id="k60-1" class="B"><use href="#bf" x="101"/></g><g id="k60-2" class="C"><use href="#bf" x="177"/></g><g id="k60-3" class="A"><use href="#f" x="253"/></g><g id="k60-4" class="C"><use href="#fb" x="329"/></g><g id="k60-5" class="B"><use href="#fb" x="405"/></g></g>
<g id="r61" transform="translate(0 2334.5)"><g id="k61-1" class="D"><use href="#f" x="63"/></g><g id="k61-2" class="B"><use href="#f" x="139"/></g><g id="k61-3" class="C"><use href="#f" x="215"/></g><g id="k61-4" class="C"><use href="#b" x="291"/></g><g id="k61-5" class="B"><use href="#b" x="367"/></g><g id="k61-6" class="D"><use href="#b" x="443"/></g></g>
<g id="r62" transform="translate(0 2372.5)"><g id="k62-1" class="D"><use href="#f" x="101"/></g><g id="k62-2" class="B"><use href="#f" x="177"/></g><g id="k62-3" class="C"><use href="#f" x="253"/></g><g id="k62-4" class="B"><use href="#b" x="329"/></g><g id="k62-5" class="D"><use href="#b" x="405"/></g></g>
<g id="r63" transform="translate(0 2410.5)"><g id="k63-1" class="E"><use href="#f" x="63"/></g><g id="k63-2" class="D"><use href="#f" x="139"/></g><g id="k63-3" class="B"><use href="#f" x="215"/></g><g id="k63-4" class="B"><use href="#b" x="291"/></g><g id="k63-5" class="D"><use href="#b" x="367"/></g><g id="k63-6" class="E"><use href="#b" x="443"/></g></g>
<g id="r64" transform="translate(0 2448.5)"><g id="k64-1" class="E"><use href="#f" x="101"/></g><g id="k64-2" class="D"><use href="#f" x="177"/></g><g id="k64-3" class="B"><use href="#f" x="253"/></g><g id="k64-4" class="D"><use href="#b" x="329"/></g><g id="k64-5" class="E"><use href="#b" x="405"/></g></g>
<g id="r65" transform="translate(0 2486.5)"><g id="k65-1" class="F"><use href="#fb" x="63"/></g><g id="k65-2" class="E"><use href="#fb" x="139"/></g><g id="k65-3" class="D"><use href="#f" x="215"/></g><g id="k65-4" class="D"><use href="#b" x="291"/></g><g id="k65-5" class="E"><use href="#bf" x="367"/></g><g id="k65-6" class="F"><use href="#bf" x="443"/></g></g>
<g id="r66" transform="translate(0 2524.5)"><g id="k66-1" class="E"><use href="#b" x="101"/></g><g id="k66-2" class="C"><use href="#fb" x="177"/></g><g id="k66-3" class="D"><use href="#f" x="253"/></g><g id="k66-4" class="C"><use href="#bf" x="329"/></g><g id="k66-5" class="E"><use href="#f" x="405"/></g></g>
<g id="r67" transform="translate(0 2562.5)"><g id="k67-1" class="E"><use href="#b" x="63"/></g><g id="k67-2" class="C"><use href="#b" x="139"/></g><g id="k67-3" class="D"><use href="#b" x="215"/></g><g id="k67-4" class="D"><use href="#f" x="291"/></g><g id="k67-5" class="C"><use href="#f" x="367"/></g><g id="k67-6" class="E"><use href="#f" x="443"/></g></g>
<g id="r68" transform="translate(0 2600.5)"><g id="k68-1" class="C"><use href="#bf" x="101"/></g><g id="k68-2" class="D"><use href="#bf" x="177"/></g><g id="k68-3" class="B"><use href="#f" x="253"/></g><g id="k68-4" class="D"><use href="#fb" x="329"/></g><g id="k68-5" class="C"><use href="#fb" x="405"/></g></g>
<g id="r69" transform="translate(0 2638.5)"><g id="k69-1" class="E"><use href="#f" x="63"/></g><g id="k69-2" class="C"><use href="#f" x="139"/></g><g id="k69-3" class="D"><use href="#f" x="215"/></g><g id="k69-4" class="D"><use href="#b" x="291"/></g><g id="k69-5" class="C"><use href="#b" x="367"/></g><g id="k69-6" class="E"><use href="#b" x="443"/></g></g>
<g id="r70" transform="translate(0 2676.5)"><g id="k70-1" class="E"><use href="#fb" x="101"/></g><g id="k70-2" class="C"><use href="#fb" x="177"/></g><g id="k70-3" class="D"><use href="#f" x="253"/></g><g id="k70-4" class="C"><use href="#bf" x="329"/></g><g id="k70-5" class="E"><use href="#bf" x="405"/></g></g>
<g id="r71" transform="translate(0 2714.5)"><g id="k71-1" class="E"><use href="#b" x="63"/></g><g id="k71-2" class="C"><use href="#b" x="139"/></g><g id="k71-3" class="D"><use href="#b" x="215"/></g><g id="k71-4" class="D"><use href="#f" x="291"/></g><g id="k71-5" class="C"><use href="#f" x="367"/></g><g id="k71-6" class="E"><use href="#f" x="443"/></g></g>
<g id="r72" transform="translate(0 2752.5)"><g id="k72-1" class="C"><use href="#bf" x="101"/></g><g id="k72-2" class="D"><use href="#bf" x="177"/></g><g id="k72-3" class="B"><use href="#f" x="253"/></g><g id="k72-4" class="D"><use href="#fb" x="329"/></g><g id="k72-5" class="C"><use href="#fb" x="405"/></g></g>
<g id="r73" transform="translate(0 2790.5)"><g id="k73-1" class="E"><use href="#f" x="63"/></g><g id="k73-2" class="C"><use href="#f" x="139"/></g><g id="k73-3" class="D"><use href="#f" x="215"/></g><g id="k73-4" class="D"><use href="#b" x="291"/></g><g id="k73-5" class="C"><use href="#b" x="367"/></g><g id="k73-6" class="E"><use href="#b" x="443"/></g></g>
<g id="r74" transform="translate(0 2828.5)"><g id="k74-1" class="E"><use href="#fb" x="101"/></g><g id="k74-2" class="C"><use href="#fb" x="177"/></g><g id="k74-3" class="D"><use href="#f" x="253"/></g><g id="k74-4" class="C"><use href="#bf" x="329"/></g><g id="k74-5" class="E"><use href="#bf" x="405"/></g></g>
<g id="r75" transform="translate(0 2866.5)"><g id="k75-1" class="E"><use href="#b" x="63"/></g><g id="k75-2" class="C"><use href="#b" x="139"/></g><g id="k75-3" class="D"><use href="#b" x="215"/></g><g id="k75-4" class="D"><use href="#f" x="291"/></g><g id="k75-5" class="C"><use href="#f" x="367"/></g><g id="k75-6" class="E"><use href="#f" x="443"/></g></g>
<g id="r76" transform="translate(0 2904.5)"><g id="k76-1" class="C"><use href="#bf" x="101"/></g><g id="k76-2" class="D"><use href="#bf" x="177"/></g><g id="k76-3" class="B"><use href="#f" x="253"/></g><g id="k76-4" class="D"><use href="#fb" x="329"/></g><g id="k76-5" class="C"><use href="#fb" x="405"/></g></g>
<g id="r77" transform="translate(0 2942.5)"><g id="k77-1" class="E"><use href="#f" x="63"/></g><g id="k77-2" class="C"><use href="#f" x="139"/></g><g id="k77-3" class="D"><use href="#f" x="215"/></g><g id="k77-4" class="D"><use href="#b" x="291"/></g><g id="k77-5" class="C"><use href="#b" x="367"/></g><g id="k77-6" class="E"><use href="#b" x="443"/></g></g>
<g id="r78" transform="translate(0 2980.5)"><g id="k78-1" class="E"><use href="#f" x="101"/></g><g id="k78-2" class="C"><use href="#f" x="177"/></g><g id="k78-3" class="D"><use href="#f" x="253"/></g><g id="k78-4" class="C"><use href="#b" x="329"/></g><g id="k78-5" class="E"><use href="#b" x="405"/></g></g>
<g id="r79" transform="translate(0 3018.5)"><g id="k79-1" class="F"><use href="#f" x="63"/></g><g id="k79-2" class="E"><use href="#f" x="139"/></g><g id="k79-3" class="C"><use href="#f" x="215"/></g><g id="k79-4" class="C"><use href="#b" x="291"/></g><g id="k79-5" class="E"><use href="#b" x="367"/></g><g id="k79-6" class="F"><use href="#b" x="443"/></g></g>
<g id="r80" transform="translate(0 3056.5)"><g id="k80-1" class="F"><use href="#f" x="101"/></g><g id="k80-2" class="E"><use href="#f" x="177"/></g><g id="k80-3" class="C"><use href="#f" x="253"/></g><g id="k80-4" class="E"><use href="#b" x="329"/></g><g id="k80-5" class="F"><use href="#b" x="405"/></g></g>
<g id="r81" transform="translate(0 3094.5)"><g id="k81-1" class="A"><use href="#fb" x="63"/></g><g id="k81-2" class="F"><use href="#fb" x="139"/></g><g id="k81-3" class="E"><use href="#f" x="215"/></g><g id="k81-4" class="E"><use href="#b" x="291"/></g><g id="k81-5" class="F"><use href="#bf" x="367"/></g><g id="k81-6" class="A"><use href="#bf" x="443"/></g></g>
<g id="r82" transform="translate(0 3132.5)"><g id="k82-1" class="F"><use href="#b" x="101"/></g><g id="k82-2" class="D"><use href="#fb" x="177"/></g><g id="k82-3" class="E"><use href="#f" x="253"/></g><g id="k82-4" class="D"><use href="#bf" x="329"/></g><g id="k82-5" class="F"><use href="#f" x="405"/></g></g>
<g id="r83" transform="translate(0 3170.5)"><g id="k83-1" class="F"><use href="#b" x="63"/></g><g id="k83-2" class="D"><use href="#b" x="139"/></g><g id="k83-3" class="E"><use href="#b" x="215"/></g><g id="k83-4" class="E"><use href="#f" x="291"/></g><g id="k83-5" class="D"><use href="#f" x="367"/></g><g id="k83-6" class="F"><use href="#f" x="443"/></g></g>
<g id="r84" transform="translate(0 3208.5)"><g id="k84-1" class="D"><use href="#bf" x="101"/></g><g id="k84-2" class="E"><use href="#bf" x="177"/></g><g id="k84-3" class="C"><use href="#f" x="253"/></g><g id="k84-4" class="E"><use href="#fb" x="329"/></g><g id="k84-5" class="D"><use href="#fb" x="405"/></g></g>
<g id="r85" transform="translate(0 3246.5)"><g id="k85-1" class="F"><use href="#f" x="63"/></g><g id="k85-2" class="D"><use href="#f" x="139"/></g><g id="k85-3" class="E"><use href="#f" x="215"/></g><g id="k85-4" class="E"><use href="#b" x="291"/></g><g id="k85-5" class="D"><use href="#b" x="367"/></g><g id="k85-6" class="F"><use href="#b" x="443"/></g></g>
<g id="r86" transform="translate(0 3284.5)"><g id="k86-1" class="F"><use href="#fb" x="101"/></g><g id="k86-2" class="D"><use href="#fb" x="177"/></g><g id="k86-3" class="E"><use href="#f" x="253"/></g><g id="k86-4" class="D"><use href="#bf" x="329"/></g><g id="k86-5" class="F"><use href="#bf" x="405"/></g></g>
<g id="r87" transform="translate(0 3322.5)"><g id="k87-1" class="F"><use href="#b" x="63"/></g><g id="k87-2" class="D"><use href="#b" x="139"/></g><g id="k87-3" class="E"><use href="#b" x="215"/></g><g id="k87-4" class="E"><use href="#f" x="291"/></g><g id="k87-5" class="D"><use href="#f" x="367"/></g><g id="k87-6" class="F"><use href="#f" x="443"/></g></g>
<g id="r88" transform="translate(0 3360.5)"><g id="k88-1" class="D"><use href="#bf" x="101"/></g><g id="k88-2" class="E"><use href="#bf" x="177"/></g><g id="k88-3" class="C"><use href="#f" x="253"/></g><g id="k88-4" class="E"><use href="#fb" x="329"/></g><g id="k88-5" class="D"><use href="#fb" x="405"/></g></g>
<g id="r89" transform="translate(0 3398.5)"><g id="k89-1" class="F"><use href="#f" x="63"/></g><g id="k89-2" class="D"><use href="#f" x="139"/></g><g id="k89-3" class="E"><use href="#f" x="215"/></g><g id="k89-4" class="E"><use href="#b" x="291"/></g><g id="k89-5" class="D"><use href="#b" x="367"/></g><g id="k89-6" class="F"><use href="#b" x="443"/></g></g>
<g id="r90" transform="translate(0 3436.5)"><g id="k90-1" class="F"><use href="#fb" x="101"/></g><g id="k90-2" class="D"><use href="#fb" x="177"/></g><g id="k90-3" class="E"><use href="#f" x="253"/></g><g id="k90-4" class="D"><use href="#bf" x="329"/></g><g id="k90-5" class="F"><use href="#bf" x="405"/></g></g>
<g id="r91" transform="translate(0 3474.5)"><g id="k91-1" class="F"><use href="#b" x="63"/></g><g id="k91-2" class="D"><use href="#b" x="139"/></g><g id="k91-3" class="E"><use href="#b" x="215"/></g><g id="k91-4" class="E"><use href="#f" x="291"/></g><g id="k91-5" class="D"><use href="#f" x="367"/></g><g id="k91-6" class="F"><use href="#f" x="443"/></g></g>
<g id="r92" transform="translate(0 3512.5)"><g id="k92-1" class="D"><use href="#bf" x="101"/></g><g id="k92-2" class="E"><use href="#bf" x="177"/></g><g id="k92-3" class="C"><use href="#f" x="253"/></g><g id="k92-4" class="E"><use href="#fb" x="329"/></g><g id="k92-5" class="D"><use href="#fb" x="405"/></g></g>
<g id="r93" transform="translate(0 3550.5)"><g id="k93-1" class="F"><use href="#f" x="63"/></g><g id="k93-2" class="D"><use href="#f" x="139"/></g><g id="k93-3" class="E"><use href="#f" x="215"/></g><g id="k93-4" class="E"><use href="#b" x="291"/></g><g id="k93-5" class="D"><use href="#b" x="367"/></g><g id="k93-6" class="F"><use href="#b" x="443"/></g></g>
<g id="r94" transform="translate(0 3588.5)"><g id="k94-1" class="F"><use href="#f" x="101"/></g><g id="k94-2" class="D"><use href="#f" x="177"/></g><g id="k94-3" class="E"><use href="#f" x="253"/></g><g id="k94-4" class="D"><use href="#b" x="329"/></g><g id="k94-5" class="F"><use href="#b" x="405"/></g></g>
<g id="r95" transform="translate(0 3626.5)"><g id="k95-1" class="A"><use href="#f" x="63"/></g><g id="k95-2" class="F"><use href="#f" x="139"/></g><g id="k95-3" class="D"><use href="#f" x="215"/></g><g id="k95-4" class="D"><use href="#b" x="291"/></g><g id="k95-5" class="F"><use href="#b" x="367"/></g><g id="k95-6" class="A"><use href="#b" x="443"/></g></g>
<g id="r96" transform="translate(0 3664.5)"><g id="k96-1" class="A"><use href="#f" x="101"/></g><g id="k96-2" class="F"><use href="#f" x="177"/></g><g id="k96-3" class="D"><use href="#f" x="253"/></g><g id="k96-4" class="F"><use href="#b" x="329"/></g><g id="k96-5" class="A"><use href="#b" x="405"/></g></g>
</g>
<text id="watermark" x="253" y="1864" text-anchor="middle" font-family="'Liberation Sans',Arial,sans-serif" font-weight="bold" font-size="14" fill="#3a3a3a" stroke="#e8e8e8" stroke-width="2" paint-order="stroke">BRACELETBOOK.COM</text>
</svg>
